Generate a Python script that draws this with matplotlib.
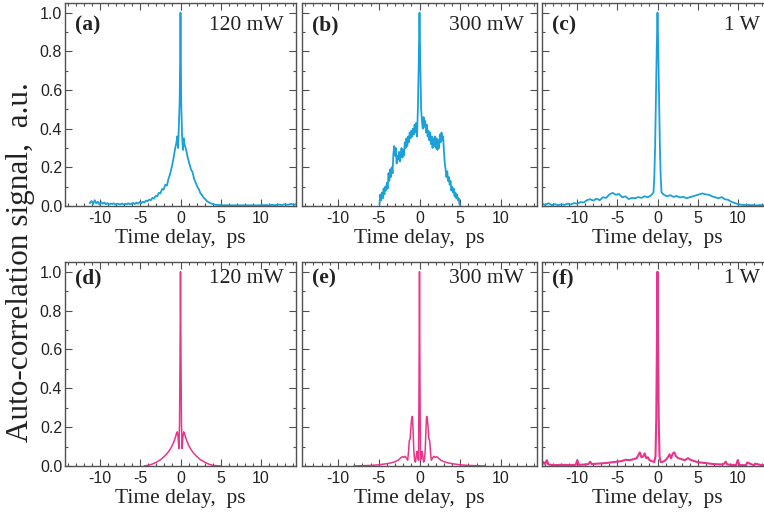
import matplotlib
matplotlib.use("Agg")
import matplotlib.pyplot as plt
from matplotlib.ticker import MultipleLocator

# ---- measured traces (time delay in ps, signal in a.u.) ----
# (a) 120 mW, measured
a_t = [-11.3, -11.1, -10.9, -10.7, -10.5, -10.3, -10.1, -9.9, -9.7, -9.5,
       -9.3, -9.1, -8.9, -8.7, -8.5, -8.3, -8.1, -7.9, -7.7, -7.5,
       -7.3, -7.1, -6.9, -6.7, -6.5, -6.3, -6.1, -5.9, -5.7, -5.5,
       -5.3, -5.1,
       -4.9, -4.7, -4.5, -4.3, -4.1, -3.9, -3.7, -3.5, -3.3, -3.1,
       -2.9, -2.7, -2.5, -2.3, -2.1, -1.9, -1.7, -1.5, -1.3, -1.1,
       -0.9, -0.7, -0.5,
       -0.4, -0.3, -0.2, -0.1, -0.05, 0.0, 0.05, 0.1, 0.2, 0.3, 0.4, 0.5,
       0.7, 0.9, 1.1, 1.3, 1.5, 1.7, 1.9, 2.1, 2.3, 2.5,
       2.7, 2.9, 3.1, 3.3, 3.5, 3.7, 3.9, 4.1, 4.3, 4.5,
       4.8, 5.2, 5.6, 6.0, 6.5, 7.0, 7.5, 8.0, 8.5, 9.0,
       9.5, 10.0, 10.5, 11.0, 11.4, 11.8, 12.2, 12.6, 13.0, 13.4,
       13.8, 14.2, 14.4]
a_y = [0.015, 0.026, 0.01, 0.03, 0.014, 0.022, 0.008, 0.02, 0.012, 0.018,
       0.009, 0.015, 0.008, 0.013, 0.01, 0.014, 0.007, 0.012, 0.01, 0.008,
       0.013, 0.008, 0.011, 0.009, 0.014, 0.009, 0.012, 0.016, 0.01, 0.018,
       0.012, 0.02,
       0.014, 0.022, 0.018, 0.028, 0.025, 0.033, 0.03, 0.042, 0.038, 0.052,
       0.05, 0.068, 0.065, 0.088, 0.085, 0.11, 0.105, 0.14, 0.165, 0.2,
       0.24, 0.29, 0.33,
       0.36, 0.3, 0.42, 0.55, 0.75, 1.0, 0.74, 0.52, 0.36, 0.29, 0.35, 0.32,
       0.29, 0.25, 0.22, 0.19, 0.175, 0.14, 0.12, 0.1, 0.085, 0.065,
       0.055, 0.042, 0.035, 0.025, 0.02, 0.015, 0.012, 0.009, 0.007, 0.006,
       0.005, 0.004, 0.004, 0.004, 0.003, 0.004, 0.003, 0.004, 0.003, 0.004,
       0.003, 0.004, 0.005, 0.004, 0.006, 0.004, 0.008, 0.005, 0.009, 0.006,
       0.011, 0.007, 0.01]

# (b) 300 mW, measured
b_t = [-4.9, -4.8, -4.7, -4.6, -4.5, -4.4, -4.3, -4.2, -4.1, -4.0,
       -3.9, -3.8, -3.7, -3.6, -3.5, -3.4, -3.3, -3.2, -3.1, -3.0,
       -2.9, -2.8, -2.7, -2.6, -2.5, -2.4, -2.3, -2.2, -2.1, -2.0,
       -1.9, -1.8, -1.7, -1.6, -1.5, -1.4, -1.3, -1.2, -1.1, -1.0,
       -0.9, -0.8, -0.7, -0.6, -0.5, -0.4, -0.3,
       -0.2, -0.1, 0.0, 0.1, 0.2,
       0.3, 0.4, 0.5, 0.6, 0.7, 0.8, 0.9, 1.0, 1.1, 1.2,
       1.3, 1.4, 1.5, 1.6, 1.7, 1.8, 1.9, 2.0, 2.1, 2.2,
       2.3, 2.4, 2.5, 2.6, 2.7, 2.8, 2.9, 3.0, 3.1, 3.2,
       3.3, 3.4, 3.5, 3.6, 3.7, 3.8, 3.9, 4.0, 4.1, 4.2,
       4.3, 4.4, 4.5, 4.6, 4.7, 4.8, 4.9, 5.0]
b_y = [0.01, 0.06, 0.03, 0.07, 0.04, 0.09, 0.06, 0.1, 0.08, 0.12,
       0.09, 0.17, 0.13, 0.19, 0.15, 0.2, 0.17, 0.27, 0.31, 0.26,
       0.3, 0.22, 0.26, 0.24, 0.28, 0.23, 0.27, 0.3, 0.25, 0.29,
       0.26, 0.33, 0.3, 0.35, 0.31, 0.36, 0.33, 0.38, 0.35, 0.39,
       0.36, 0.4, 0.37, 0.42, 0.38, 0.43, 0.36,
       0.5, 0.72, 1.0, 0.73, 0.5,
       0.44, 0.4, 0.46, 0.41, 0.44, 0.38, 0.42, 0.36, 0.39, 0.34,
       0.38, 0.32, 0.36, 0.3, 0.35, 0.31, 0.36, 0.3, 0.35, 0.29,
       0.34, 0.3, 0.37, 0.33, 0.38, 0.34, 0.36, 0.28, 0.22, 0.19,
       0.15, 0.18, 0.13, 0.15, 0.11, 0.13, 0.08, 0.1, 0.07, 0.09,
       0.05, 0.07, 0.04, 0.06, 0.03, 0.04, 0.01, 0.0]

# (c) 1 W, measured
c_t = [-14.4, -14.0, -13.6, -13.2, -12.8, -12.4, -12.0, -11.6, -11.2, -10.8,
       -10.4, -10.0, -9.6, -9.2, -8.8, -8.4, -8.0, -7.6, -7.2, -6.8,
       -6.4, -6.0, -5.6, -5.2, -4.8, -4.4, -4.0, -3.6, -3.2, -2.8,
       -2.4, -2.0, -1.6, -1.2, -0.8,
       -0.5, -0.4, -0.3, -0.2, -0.1, 0.0, 0.1, 0.2, 0.3, 0.4, 0.5,
       0.8, 1.2, 1.6, 2.0, 2.4, 2.8, 3.2, 3.6, 4.0, 4.4,
       4.8, 5.2, 5.6, 6.0, 6.4, 6.8, 7.2, 7.6, 8.0, 8.4,
       8.8, 9.2, 9.6, 10.0, 10.4, 10.8, 11.2, 11.6, 12.0, 12.4,
       12.8, 13.2, 13.6, 14.0, 14.4]
c_y = [0.012, 0.006, 0.014, 0.005, 0.01, 0.004, 0.009, 0.006, 0.012, 0.008,
       0.015, 0.012, 0.02, 0.018, 0.03, 0.035, 0.028, 0.038, 0.03, 0.045,
       0.042, 0.06, 0.068, 0.058, 0.062, 0.045, 0.05, 0.036, 0.042, 0.04,
       0.046, 0.042, 0.05, 0.045, 0.055,
       0.07, 0.15, 0.3, 0.55, 0.8, 1.0, 0.8, 0.55, 0.3, 0.15, 0.07,
       0.058, 0.05, 0.056, 0.047, 0.052, 0.044, 0.048, 0.04, 0.045, 0.05,
       0.055, 0.06, 0.065, 0.06, 0.058, 0.05, 0.045, 0.04, 0.046, 0.035,
       0.032, 0.022, 0.016, 0.01, 0.007, 0.005, 0.006, 0.004, 0.005, 0.003,
       0.005, 0.004, 0.006, 0.004, 0.005]

# ---- simulated traces ----
# (d) 120 mW
d_t = [-4.5, -4.0, -3.5, -3.0, -2.5, -2.0, -1.6, -1.3, -1.0, -0.8,
       -0.6, -0.5, -0.4, -0.3, -0.2, -0.12, -0.06, 0.0,
       0.06, 0.12, 0.2, 0.3, 0.4, 0.5, 0.6, 0.8, 1.0, 1.3,
       1.6, 2.0, 2.5, 3.0, 3.5, 4.0, 4.5, 5.0]
d_y = [0.0, 0.004, 0.01, 0.02, 0.032, 0.05, 0.068, 0.085, 0.108, 0.128,
       0.152, 0.168, 0.176, 0.15, 0.09, 0.22, 0.55, 1.0,
       0.55, 0.22, 0.09, 0.15, 0.176, 0.168, 0.152, 0.128, 0.108, 0.085,
       0.068, 0.05, 0.032, 0.02, 0.01, 0.004, 0.001, 0.0]

# (e) 300 mW
e_t = [-8.0, -6.0, -5.0, -4.0, -3.5, -3.0, -2.6, -2.3, -2.1, -1.9,
       -1.75, -1.6, -1.45, -1.35, -1.25, -1.15, -1.05, -0.95, -0.87, -0.8,
       -0.7, -0.6, -0.5, -0.4, -0.3, -0.2, -0.12, -0.06, 0.0,
       0.06, 0.12, 0.2, 0.3, 0.4, 0.5, 0.6, 0.7, 0.8, 0.87,
       0.95, 1.05, 1.15, 1.25, 1.35, 1.45, 1.6, 1.75, 1.9, 2.1,
       2.3, 2.6, 3.0, 3.5, 4.0, 5.0, 6.0, 8.0]
e_y = [0.0, 0.003, 0.006, 0.012, 0.016, 0.022, 0.03, 0.042, 0.048, 0.045,
       0.05, 0.04, 0.03, 0.07, 0.13, 0.14, 0.2, 0.25, 0.255, 0.2,
       0.08, 0.03, 0.02, 0.05, 0.075, 0.04, 0.03, 0.4, 1.0,
       0.4, 0.03, 0.04, 0.075, 0.05, 0.02, 0.03, 0.08, 0.2, 0.255,
       0.25, 0.2, 0.14, 0.13, 0.07, 0.03, 0.04, 0.05, 0.045, 0.048,
       0.042, 0.03, 0.022, 0.016, 0.012, 0.006, 0.003, 0.0]

# (f) 1 W
f_t = [-14.4, -14.2, -14.0, -13.8, -13.6, -13.0, -12.0, -11.0, -10.2, -10.0,
       -9.8, -9.0, -8.6, -8.4, -8.2, -7.5, -6.5, -5.5, -4.5, -4.0,
       -3.5, -3.0, -2.6, -2.4, -2.2, -2.0, -1.8, -1.6, -1.4, -1.2,
       -1.0, -0.7, -0.4, -0.25, -0.15, -0.08, 0.0, 0.08, 0.15, 0.25,
       0.4, 0.7, 1.0, 1.3, 1.5, 1.7, 1.9, 2.1, 2.3, 2.6,
       3.0, 3.4, 3.8, 4.2, 5.0, 6.0, 7.0, 8.0, 8.3, 8.5,
       8.7, 9.2, 9.8, 10.0, 10.2, 11.0, 11.2, 12.0, 12.2, 13.0,
       13.5, 14.4]
f_y = [0.005, 0.02, 0.01, 0.03, 0.008, 0.004, 0.006, 0.005, 0.006, 0.03,
       0.006, 0.008, 0.01, 0.022, 0.01, 0.012, 0.015, 0.02, 0.025, 0.032,
       0.03, 0.035, 0.04, 0.055, 0.07, 0.045, 0.048, 0.065, 0.04, 0.045,
       0.03, 0.025, 0.02, 0.05, 0.25, 0.6, 1.0, 0.6, 0.25, 0.05,
       0.02, 0.022, 0.03, 0.045, 0.06, 0.04, 0.065, 0.07, 0.05, 0.04,
       0.035, 0.03, 0.04, 0.03, 0.02, 0.015, 0.01, 0.008, 0.012, 0.022,
       0.008, 0.006, 0.005, 0.03, 0.005, 0.004, 0.018, 0.004, 0.012, 0.004,
       0.006, 0.004]

panel_tags = ["(a)", "(b)", "(c)", "(d)", "(e)", "(f)"]
powers = ["120 mW", "300 mW", "1 W", "120 mW", "300 mW", "1 W"]
traces = [(a_t, a_y), (b_t, b_y), (c_t, c_y), (d_t, d_y), (e_t, e_y), (f_t, f_y)]

BLUE = "#1ba0da"
PINK = "#e8358b"
FRAME = "#505050"
SERIF = "Liberation Serif"
SANS = "Liberation Sans"

plt.rcParams["axes.unicode_minus"] = False
plt.rcParams["font.family"] = SANS

W, H = 764, 519
fig = plt.figure(figsize=(W / 100, H / 100), dpi=100)

# panel boxes in pixels: left, width / top, bottom
col_box = [(65, 231), (302, 235), (542, 231)]
row_box = [(3, 206), (262, 466)]

for i, (t, y) in enumerate(traces):
    r, c = divmod(i, 3)
    left, width = col_box[c]
    top, bottom = row_box[r]
    ax = fig.add_axes([left / W, 1 - bottom / H, width / W, (bottom - top) / H])
    color = BLUE if r == 0 else PINK
    lw = 1.5 if i == 5 else (1.3 if r == 0 else 1.1)
    ax.plot(t, y, color=color, lw=lw)
    ax.set_xlim(-14.4, 14.4)
    ax.set_ylim(0, 1.05)
    ax.xaxis.set_major_locator(MultipleLocator(5))
    ax.xaxis.set_minor_locator(MultipleLocator(1))
    ax.yaxis.set_major_locator(MultipleLocator(0.2))
    ax.yaxis.set_minor_locator(MultipleLocator(0.1))
    ax.yaxis.set_major_formatter(plt.FormatStrFormatter("%.1f"))
    ax.tick_params(which="both", direction="in", top=True, right=True,
                   color=FRAME, width=0.8, labelsize=11.5, labelcolor="#222222")
    ax.tick_params(which="major", length=5)
    ax.tick_params(which="minor", length=2.5)
    ax.tick_params(axis="x", pad=3.5)
    ax.tick_params(axis="y", pad=2)
    if c != 0:
        ax.tick_params(axis="y", labelleft=False)
    for sp in ax.spines.values():
        sp.set_color(FRAME)
        sp.set_linewidth(1.0)
    ax.set_xlabel("Time delay,  ps", family=SERIF, fontsize=15.5,
                  color="#222222", labelpad=2)
    ty = 0.89 if r == 0 else 0.92
    ax.text(0.043, ty, panel_tags[i], transform=ax.transAxes, family=SERIF,
            fontsize=15.5, fontweight="bold", va="center", ha="left",
            color="#222222")
    ax.text(0.945, ty, powers[i], transform=ax.transAxes, family=SERIF,
            fontsize=15.5, va="center", ha="right", color="#222222")

fig.text(21 / W, 1 - 262 / H, "Auto-correlation signal,  a.u.", family=SERIF,
         fontsize=22.5, rotation=90, va="center", ha="center", color="#222222")

fig.savefig("out.png", dpi=100)
